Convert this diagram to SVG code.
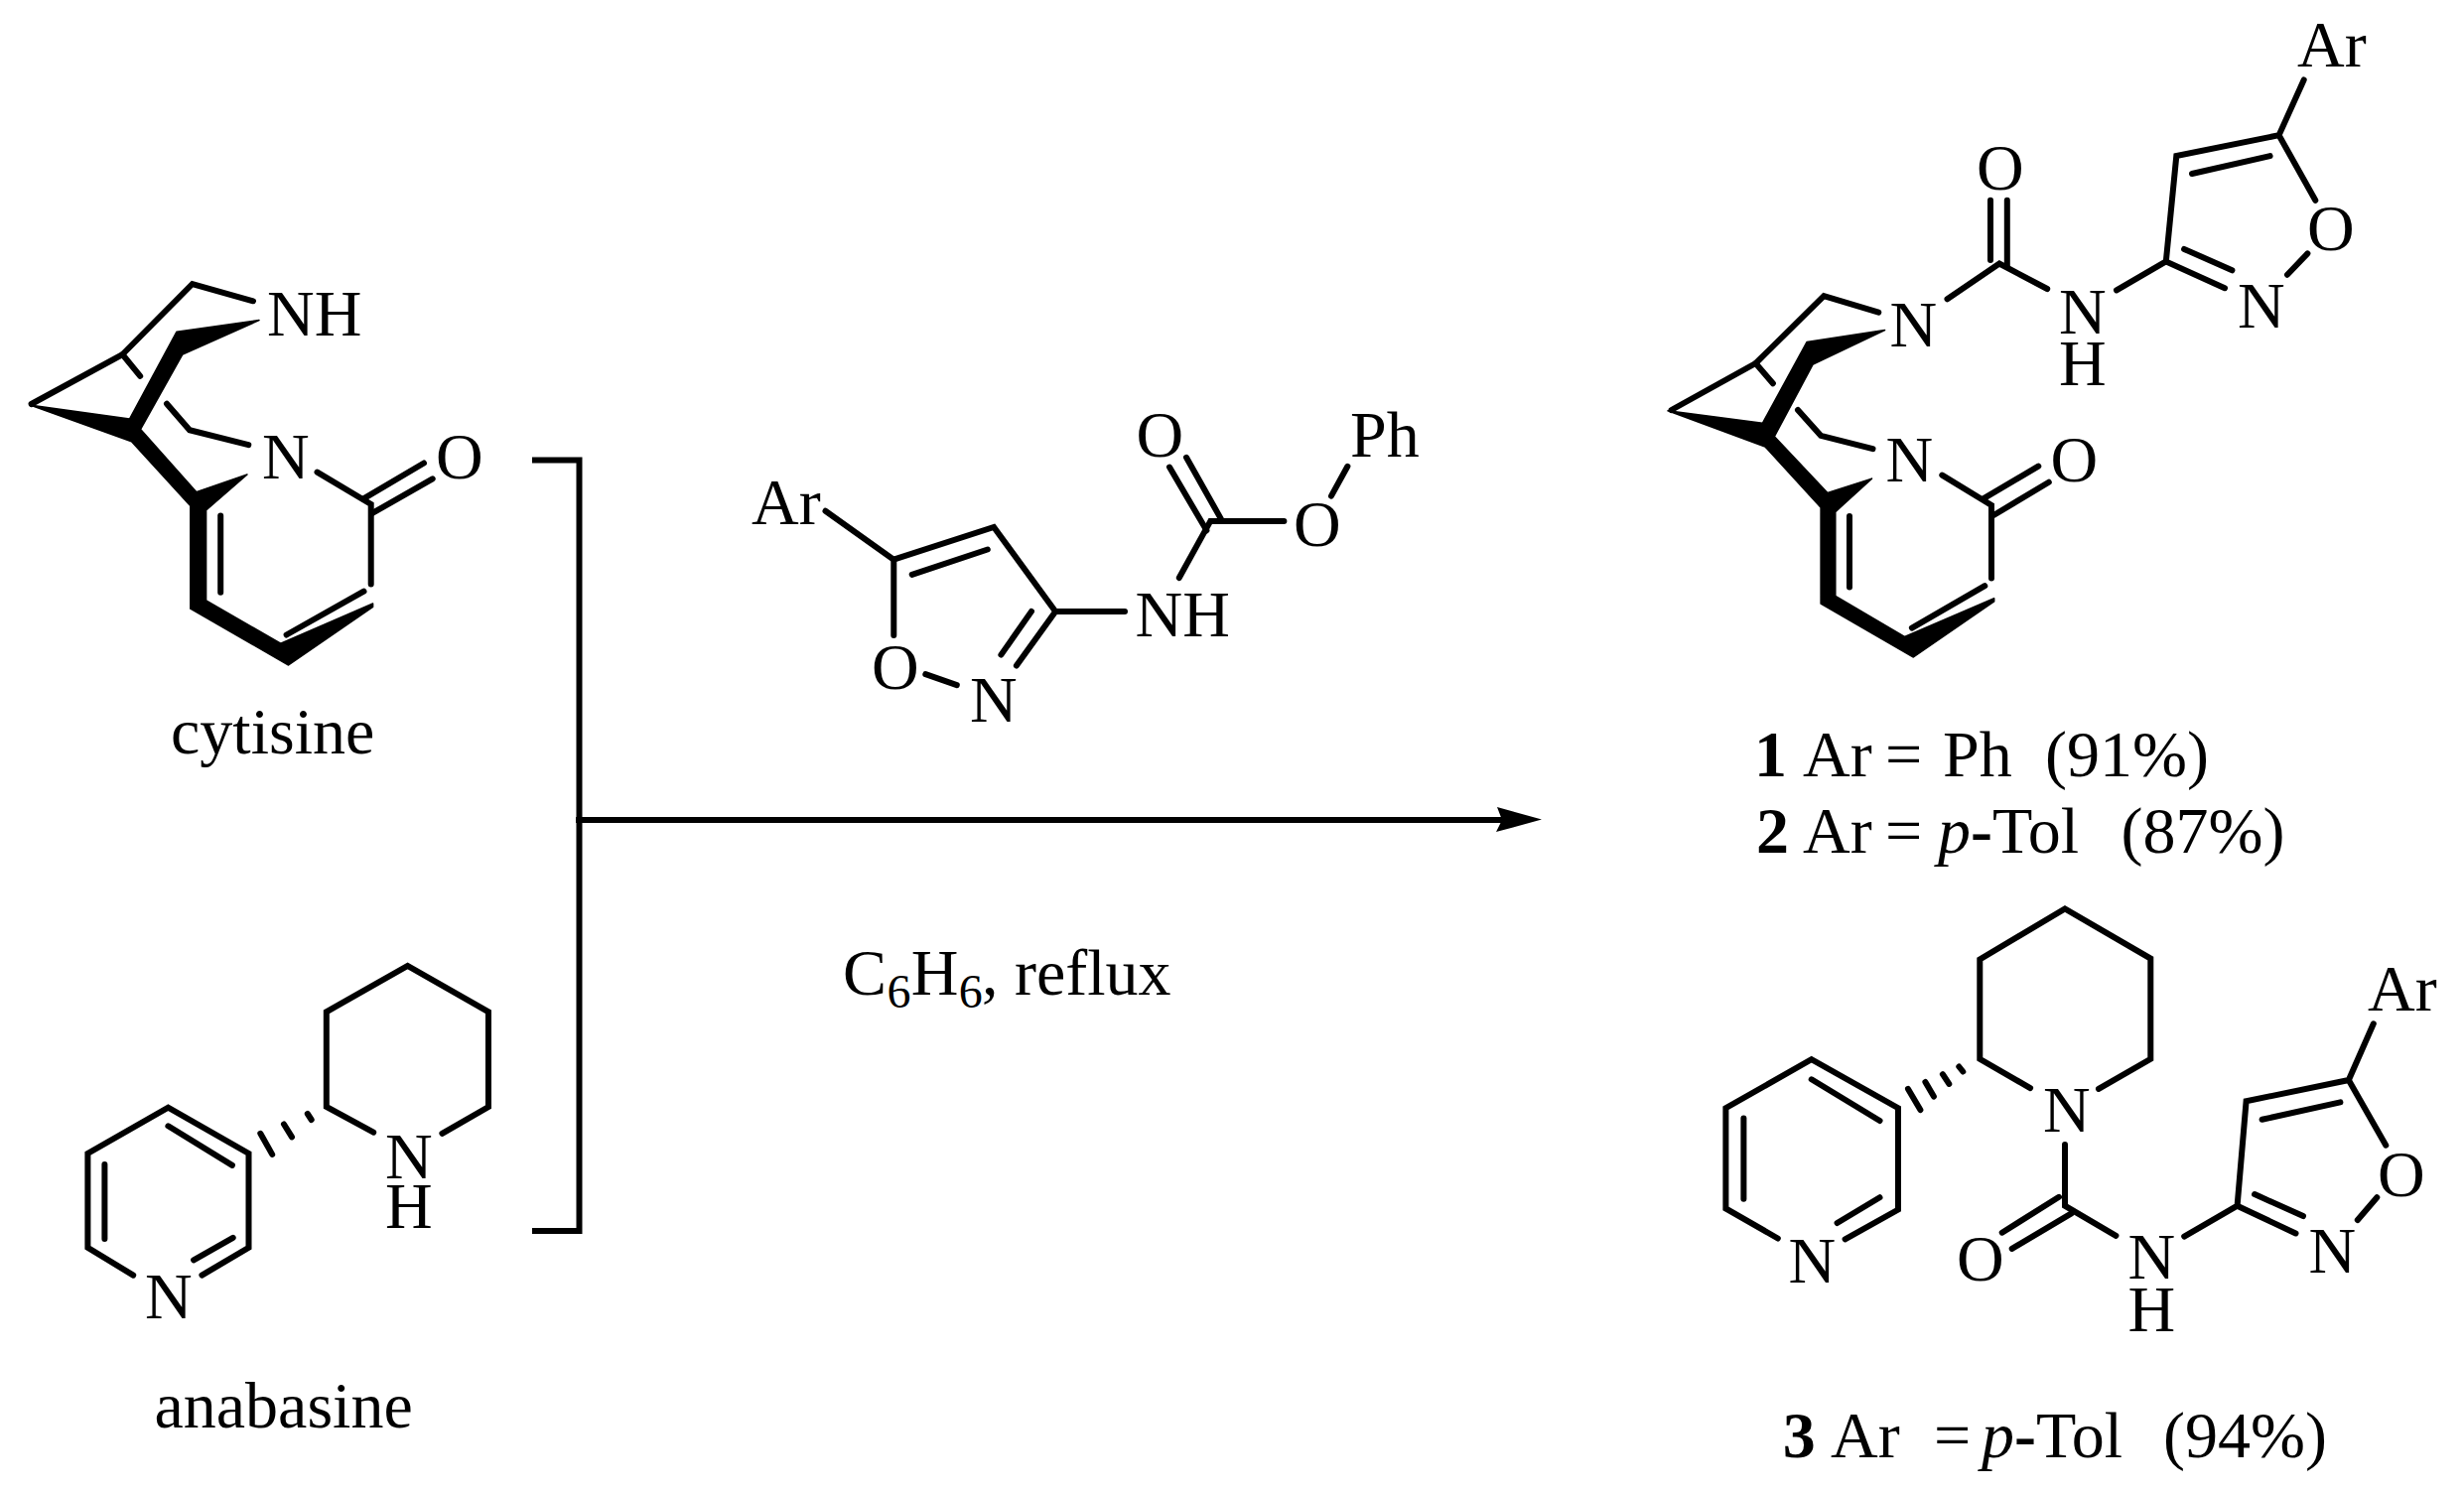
<svg xmlns="http://www.w3.org/2000/svg" width="2482" height="1505" viewBox="0 0 2482 1505">
<style>
text{font-family:"Liberation Serif","Times New Roman",serif;font-size:66px;fill:#000}
.b{font-weight:bold}
.i{font-style:italic}
.sub{font-size:48px}
.bond{fill:none;stroke:#000;stroke-width:6;stroke-linecap:round;stroke-linejoin:miter}
.solid{fill:#000;stroke:#000;stroke-width:1.5;stroke-linejoin:round}
.rule{fill:none;stroke:#000;stroke-width:6}
</style>
<defs>
<marker id="head" markerUnits="userSpaceOnUse" markerWidth="50" markerHeight="30" refX="5" refY="13" orient="auto" viewBox="-2 0 50 30" overflow="visible"><path d="M0,0 L45,12.6 L-1,25 L5,13 Z" fill="#000"/></marker>
</defs>
<rect width="2482" height="1505" fill="#fff"/>

<g id="cytisine">
<path class="bond" d="M123.4,357 L193.8,286 L255,303.3"/>
<path class="bond" d="M31.6,407 L123.4,357 L141.2,378.8"/>
<path class="bond" d="M168,406.8 L191,433.2 L250.3,448.2"/>
<path class="solid" d="M261,322.6 L178,334.2 L130.5,422 L29.7,407.9 L132.5,444.7 L191.8,509.6 L191.8,613.2 L290.6,670 L375.6,611.4 L375.6,607.9 L282.7,648.2 L207.6,605 L207.6,513.9 L249,478 L197.7,495.6 L141.6,432.5 L183.9,357 Z"/>
<path class="bond" d="M222.2,519.5 V596.7"/>
<path class="bond" d="M288.6,639.5 L366.5,595.6"/>
<path class="bond" d="M319.5,475.6 L373.7,507.9 V588.6"/>
<path class="bond" d="M365.8,502.6 L427,466.5"/>
<path class="bond" d="M375.6,516.7 L435.7,482.3"/>
<text x="269" y="338">NH</text>
<text x="264" y="481.6">N</text>
<text x="439" y="481.6">O</text>
<text x="172" y="758.8">cytisine</text>
</g>

<g id="anabasine">
<path class="bond" d="M376.2,1140.7 L328.8,1115 V1019.3 L410.6,972.9 L492,1019.3 V1115 L445.4,1141.8"/>
<path class="bond" d="M134.2,1284.6 L88.4,1256.8 V1162 L169.4,1115.7 L250.5,1162 V1256.8 L203.4,1284.6"/>
<path class="bond" d="M105.4,1172.9 V1247.9"/>
<path class="bond" d="M169.4,1134.3 L233.9,1173.9"/>
<path class="bond" d="M195.1,1269.3 L234.7,1246.8"/>
<path class="bond" d="M262.3,1141.8 L274.2,1162.9"/>
<path class="bond" d="M286,1132.5 L294,1145.4"/>
<path class="bond" d="M309.8,1122 L313.7,1128"/>
<text><tspan x="388" y="1187">N</tspan><tspan x="388" y="1237">H</tspan></text>
<text x="146" y="1328.2">N</text>
<text x="155.5" y="1438">anabasine</text>
</g>

<g id="carbamate">
<path class="bond" d="M831.5,514.7 L900.3,563.7 V640"/>
<path class="bond" d="M900.3,563.7 L1001.1,531 L1063.2,615.9 L1023.9,670.6"/>
<path class="bond" d="M918.7,578.8 L994.8,553.5"/>
<path class="bond" d="M1039,615.9 L1008.4,659.6"/>
<path class="bond" d="M932.3,679.2 L963.8,690.2"/>
<path class="bond" d="M1063.2,615.9 H1133"/>
<path class="bond" d="M1187.8,582 L1219.3,524.9 H1293.4"/>
<path class="bond" d="M1341,499.6 L1357.4,469.8"/>
<path class="bond" d="M1178,470.6 L1215.4,534.3"/>
<path class="bond" d="M1195,460.8 L1230,522.9"/>
<text x="757" y="527.8">Ar</text>
<text x="878" y="694.3">O</text>
<text x="977" y="727">N</text>
<text x="1143.5" y="641.2">NH</text>
<text x="1303" y="550.2">O</text>
<text x="1360" y="459.6">Ph</text>
<text x="1144.6" y="459.6">O</text>
</g>

<g id="conditions">
<text y="1001.6"><tspan x="849">C</tspan><tspan class="sub" x="893.5" y="1014.6">6</tspan><tspan x="917.8" y="1001.6">H</tspan><tspan class="sub" x="965.8" y="1014.6">6</tspan><tspan x="989" y="1001.6">,</tspan><tspan x="1022">reflux</tspan></text>
</g>

<g id="connectors">
<path class="rule" d="M536,463.5 H583.5 V1240 H536"/>
<path class="rule" d="M580,826 H1513" marker-end="url(#head)"/>
</g>

<g id="product12">
<path class="bond" d="M2320.7,80.4 L2295.6,136.2 L2192.3,157.1 L2181.8,263.4 L2241,290.2"/>
<path class="bond" d="M2295.6,136.2 L2332.3,201.8"/>
<path class="bond" d="M2208,175 L2286.6,157.1"/>
<path class="bond" d="M2200.1,250.9 L2248.4,272.3"/>
<path class="bond" d="M2304,276.8 L2324.4,255.4"/>
<path class="bond" d="M2181.8,263.4 L2132,292.4"/>
<path class="bond" d="M2062.2,291 L2014,265.6 L1961.5,301.3"/>
<path class="bond" d="M2005,201.8 V262"/>
<path class="bond" d="M2021.8,201.8 V268"/>
<path class="bond" d="M1768.5,366 L1837.2,298.2 L1892.3,314.7"/>
<path class="bond" d="M1683.6,413 L1768.5,366 L1785.9,386.2"/>
<path class="bond" d="M1811,413 L1834.1,438.8 L1886.5,452.2"/>
<path class="solid" d="M1898.6,332.6 L1820,344.6 L1775.4,426.3 L1680,413.8 L1778,450 L1834.1,511.2 V608 L1927.4,662 L2008.7,606 V602.7 L1918.5,641.5 L1848.8,600.4 V515.6 L1885.5,482.1 L1840.9,496.4 L1787.4,439.7 L1826.2,367 Z"/>
<path class="bond" d="M1863,520 V591.5"/>
<path class="bond" d="M1925.9,632.6 L1999.3,590.2"/>
<path class="bond" d="M1956.3,478.6 L2006,508.9 V582.6"/>
<path class="bond" d="M1998.2,502.2 L2053.3,469.6"/>
<path class="bond" d="M2008.7,518.8 L2063.8,485.7"/>
<text x="2314" y="67">Ar</text>
<text x="2324" y="252.2">O</text>
<text x="2254" y="330.4">N</text>
<text><tspan x="2074" y="335.7">N</tspan><tspan x="2074" y="387.5">H</tspan></text>
<text x="1991" y="190.6">O</text>
<text x="1903.5" y="349">N</text>
<text x="1899.5" y="485.3">N</text>
<text x="2065.5" y="485.3">O</text>
<text y="781.7"><tspan class="b" x="1767">1</tspan><tspan x="1816">Ar</tspan><tspan x="1899">=</tspan><tspan x="1957">Ph</tspan><tspan x="2060">(91%)</tspan></text>
<text y="859.3"><tspan class="b" x="1769">2</tspan><tspan x="1816">Ar</tspan><tspan x="1899">=</tspan><tspan class="i" x="1952">p</tspan><tspan class="b">-</tspan><tspan>Tol</tspan><tspan x="2136.5">(87%)</tspan></text>
</g>

<g id="product3">
<path class="bond" d="M2045.1,1096.1 L1994.3,1066.8 V966.4 L2080,915.4 L2166.3,965.6 V1066.8 L2114,1096.9"/>
<path class="bond" d="M2080,1152.9 V1214.7 L2131.4,1244.8"/>
<path class="bond" d="M2074,1205.8 L2016.7,1241.7"/>
<path class="bond" d="M2086.5,1222.4 L2026.7,1257.9"/>
<path class="bond" d="M2200.2,1245.6 L2253.6,1214.7 L2262.6,1109.3 L2365.8,1088 L2390.8,1031.3"/>
<path class="bond" d="M2365.8,1088 L2403.3,1153.7"/>
<path class="bond" d="M2278.6,1127.8 L2357.4,1110.4"/>
<path class="bond" d="M2253.6,1214.7 L2312.5,1242.5"/>
<path class="bond" d="M2271.1,1203.1 L2320,1225.1"/>
<path class="bond" d="M2374.8,1229 L2394.3,1206.2"/>
<path class="bond" d="M1790.8,1247.5 L1738.4,1217.4 V1116.2 L1824.7,1067.2 L1912,1116.2 V1218.5 L1858.6,1248.3"/>
<path class="bond" d="M1756.4,1126.6 V1207.7"/>
<path class="bond" d="M1824.7,1087.3 L1893.5,1129"/>
<path class="bond" d="M1850.6,1232 L1893.5,1206.2"/>
<path class="bond" d="M1922,1096.9 L1934.4,1118.1"/>
<path class="bond" d="M1939.4,1090 L1947.9,1104.6"/>
<path class="bond" d="M1956.9,1082.2 L1963.3,1091.9"/>
<path class="bond" d="M1973.3,1074.5 L1977.3,1079.5"/>
<text x="2058" y="1140.2">N</text>
<text x="1971" y="1290">O</text>
<text><tspan x="2143.5" y="1288">N</tspan><tspan x="2143.5" y="1341.3">H</tspan></text>
<text x="2325.5" y="1282.2">N</text>
<text x="2395" y="1205">O</text>
<text x="2385" y="1017.8">Ar</text>
<text x="1801.5" y="1291.9">N</text>
<text y="1467.6"><tspan class="b" x="1795.8">3</tspan><tspan x="1844">Ar</tspan><tspan x="1947.9">=</tspan><tspan class="i" x="1996">p</tspan><tspan class="b">-</tspan><tspan>Tol</tspan><tspan x="2179">(94%)</tspan></text>
</g>
</svg>
